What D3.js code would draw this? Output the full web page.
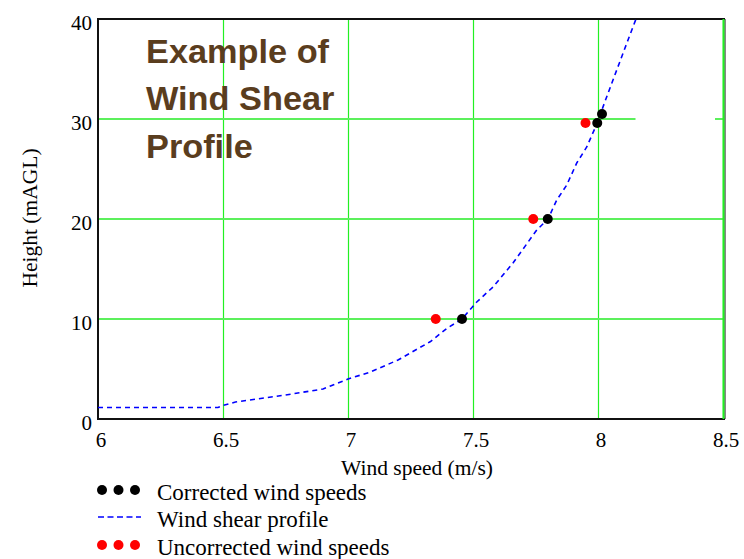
<!DOCTYPE html>
<html>
<head>
<meta charset="utf-8">
<script src="https://cdn.jsdelivr.net/npm/d3@7/dist/d3.min.js"></script>
<style>
  body { margin: 0; background: #fff; }
  text { font-family: "Liberation Serif", "Times New Roman", serif; }
</style>
</head>
<body>
<div id="chart"></div>
<script>
// data
var xTicks = [6, 6.5, 7, 7.5, 8, 8.5];
var yTicks = [0, 10, 20, 30, 40];

var correctedSpeed = [7.456, 7.799, 7.997, 8.016];
var correctedHeight = [10, 20, 29.6, 30.5];

var uncorrectedSpeed = [7.351, 7.741, 7.950];
var uncorrectedHeight = [10, 20, 29.6];

var profileSpeed = [6.0, 6.48, 6.5, 6.55, 6.75, 6.9, 6.93, 7.0, 7.09, 7.2, 7.33, 7.395, 7.456, 7.515, 7.58, 7.66, 7.755, 7.80, 7.835, 7.875, 7.915, 7.955, 7.997, 8.03, 8.06, 8.09, 8.12, 8.152, 8.17];
var profileHeight = [1.15, 1.15, 1.35, 1.7, 2.4, 3.0, 3.3, 4.0, 4.7, 5.9, 7.75, 9.05, 10.0, 11.7, 13.2, 15.6, 18.9, 20.0, 21.9, 23.4, 25.6, 27.2, 29.6, 31.9, 33.9, 35.9, 37.9, 40.0, 41.2];

var titleLines = ["Example of", "Wind Shear", "Profile"];
var legendLabels = ["Corrected wind speeds", "Wind shear profile", "Uncorrected wind speeds"];

(function() {
  var width = 744, height = 559;
  var margin = { left: 98, top: 19, right: 21, bottom: 140 };
  var pw = width - margin.left - margin.right,
      ph = height - margin.top - margin.bottom;

  var svg = d3.select("#chart").append("svg")
    .attr("width", width)
    .attr("height", height);

  var x = d3.scaleLinear().domain([6, 8.5]).range([0, pw]);
  var y = d3.scaleLinear().domain([0, 40]).range([ph, 0]);

  var g = svg.append("g")
    .attr("transform", "translate(" + margin.left + "," + margin.top + ")");

  svg.append("defs").append("clipPath").attr("id", "plotClip")
    .append("rect").attr("width", pw).attr("height", ph);

  //grid
  g.selectAll("line.vgrid")
    .data(xTicks.slice(1))
    .enter().append("line")
    .attr("class", "vgrid")
    .attr("x1", function(d) { return Math.round(x(d)) + 0.5; })
    .attr("x2", function(d) { return Math.round(x(d)) + 0.5; })
    .attr("y1", 0).attr("y2", ph)
    .attr("stroke", "#22f022").attr("stroke-width", 1.2);

  g.selectAll("line.hgrid")
    .data(yTicks.slice(1, -1))
    .enter().append("line")
    .attr("class", "hgrid")
    .attr("x1", 0)
    .attr("x2", function(d) { return d === 30 ? x(8.15) : pw; })
    .attr("y1", function(d) { return y(d); })
    .attr("y2", function(d) { return y(d); })
    .attr("stroke", "#5cf05c").attr("stroke-width", 2);
  // short stub of the 30 line at the right edge
  g.append("line")
    .attr("x1", x(8.468)).attr("x2", pw)
    .attr("y1", y(30)).attr("y2", y(30))
    .attr("stroke", "#5cf05c").attr("stroke-width", 2);

  //frame
  g.append("path")
    .attr("d", "M" + (pw + 2) + ",0H0V" + ph + "H" + (pw + 2))
    .attr("fill", "none").attr("stroke", "#111").attr("stroke-width", 2);
  g.append("line")
    .attr("x1", pw + 2).attr("x2", pw + 2).attr("y1", 0).attr("y2", ph)
    .attr("stroke", "#111").attr("stroke-width", 1);
  g.append("line")
    .attr("x1", pw + 0.5).attr("x2", pw + 0.5).attr("y1", 0).attr("y2", ph)
    .attr("stroke", "#22f022").attr("stroke-width", 2);

  //title
  g.append("text")
    .attr("transform", "translate(48,44) scale(1.04,1)")
    .attr("fill", "#5a3d1e")
    .style("font-family", "'Liberation Sans', Arial, sans-serif")
    .style("font-weight", "bold")
    .style("font-size", "33px")
    .selectAll("tspan")
    .data(titleLines)
    .enter().append("tspan")
    .attr("x", 0)
    .attr("dy", function(d, i) { return i ? 47.5 : 0; })
    .text(function(d) { return d; });

  //profile
  var profile = profileSpeed.map(function(s, i) { return [s, profileHeight[i]]; });
  var line = d3.line()
    .x(function(d) { return x(d[0]); })
    .y(function(d) { return y(d[1]); });

  g.append("path")
    .datum(profile)
    .attr("clip-path", "url(#plotClip)")
    .attr("d", line)
    .attr("fill", "none")
    .attr("stroke", "#0000ff")
    .attr("stroke-width", 1.6)
    .attr("stroke-dasharray", "5,4");

  g.selectAll("circle.uncorr")
    .data(uncorrectedSpeed)
    .enter().append("circle")
    .attr("class", "uncorr")
    .attr("cx", function(d) { return x(d); })
    .attr("cy", function(d, i) { return y(uncorrectedHeight[i]); })
    .attr("r", 5)
    .attr("fill", "#ff0000");

  g.selectAll("circle.corr")
    .data(correctedSpeed)
    .enter().append("circle")
    .attr("class", "corr")
    .attr("cx", function(d) { return x(d); })
    .attr("cy", function(d, i) { return y(correctedHeight[i]); })
    .attr("r", 5)
    .attr("fill", "#000");

  //tick labels
  g.selectAll("text.xtick")
    .data(xTicks)
    .enter().append("text")
    .attr("class", "xtick")
    .attr("x", function(d) { return x(d) + 3; })
    .attr("y", ph + 28)
    .attr("text-anchor", "middle")
    .style("font-size", "21px")
    .text(function(d) { return d; });

  g.selectAll("text.ytick")
    .data(yTicks)
    .enter().append("text")
    .attr("class", "ytick")
    .attr("x", -6)
    .attr("y", function(d) { return y(d) + 11; })
    .attr("text-anchor", "end")
    .style("font-size", "21px")
    .text(function(d) { return d; });

  //axis titles
  svg.append("text")
    .attr("x", 417).attr("y", 475)
    .attr("text-anchor", "middle")
    .style("font-size", "21.5px")
    .text("Wind speed (m/s)");

  svg.append("text")
    .attr("transform", "translate(37,218) rotate(-90)")
    .attr("text-anchor", "middle")
    .style("font-size", "21.5px")
    .text("Height (mAGL)");

  //legend
  var legend = svg.append("g");
  var rowY = [490, 517, 545];
  var dotX = [102, 118.5, 135];

  [0, 2].forEach(function(r) {
    legend.selectAll("circle.l" + r)
      .data(dotX)
      .enter().append("circle")
      .attr("cx", function(d) { return d; })
      .attr("cy", rowY[r])
      .attr("r", 5)
      .attr("fill", r === 0 ? "#000" : "#ff0000");
  });
  legend.append("line")
    .attr("x1", 98).attr("x2", 141)
    .attr("y1", rowY[1]).attr("y2", rowY[1])
    .attr("stroke", "#0000ff").attr("stroke-width", 1.6)
    .attr("stroke-dasharray", "6,3.5");

  legend.selectAll("text")
    .data(legendLabels)
    .enter().append("text")
    .attr("x", 157)
    .attr("y", function(d, i) { return rowY[i] + 10; })
    .style("font-size", "23px")
    .text(function(d) { return d; });
})();
</script>
</body>
</html>
